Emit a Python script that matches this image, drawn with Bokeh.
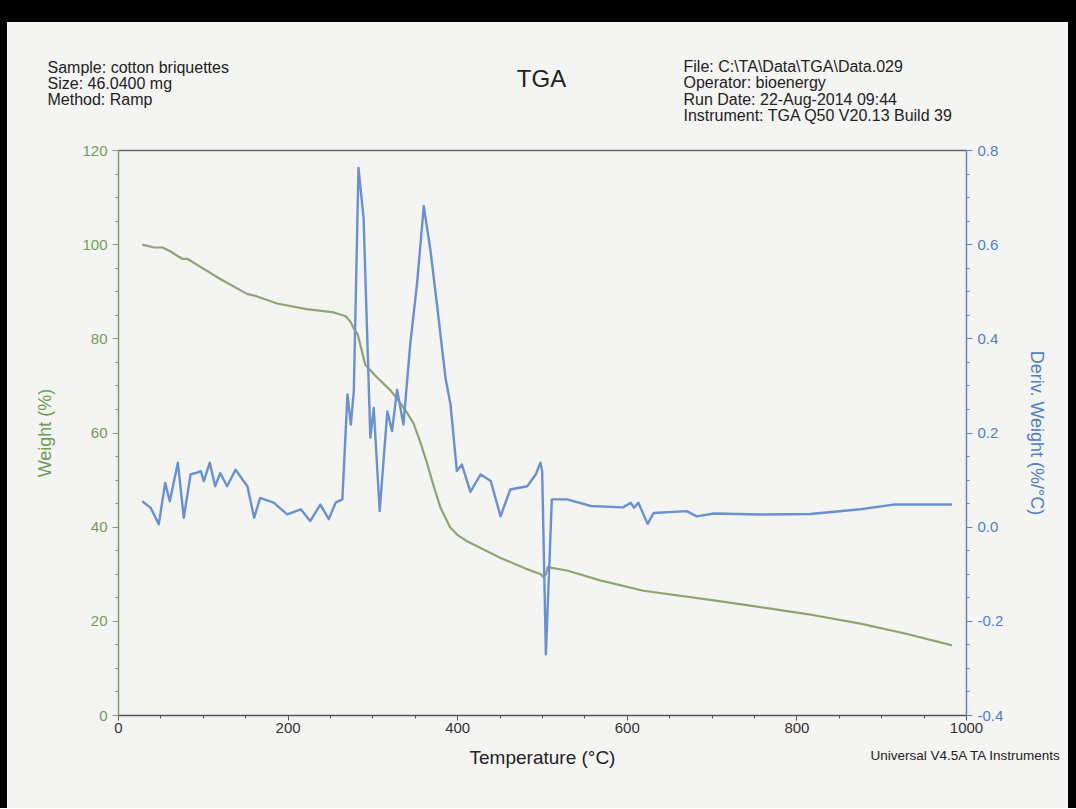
from bokeh.plotting import figure
from bokeh.models import (Range1d, LinearAxis, SingleIntervalTicker, FixedTicker,
                          NumeralTickFormatter, Div)
from bokeh.layouts import column, row
from bokeh.core.properties import value
from bokeh.embed import file_html
from bokeh.resources import INLINE

# ---- data ----
temp_w = [28, 42, 52, 61, 75, 81, 101, 120, 152, 160, 187, 222, 254, 268, 274, 278, 282,
          291, 305, 321, 333, 341, 348, 356, 364, 372, 380, 391, 400, 411, 430, 450, 480,
          498, 501, 504, 506, 529, 568, 619, 700, 757, 820, 875, 930, 983]
weight = [100.0, 99.4, 99.4, 98.6, 97.0, 97.0, 94.8, 92.7, 89.5, 89.2, 87.5, 86.3, 85.6,
          84.8, 83.5, 82.0, 81.0, 74.5, 71.8, 69.0, 66.2, 64.1, 62.0, 58.0, 53.5, 48.5,
          44.0, 40.0, 38.3, 37.0, 35.3, 33.5, 31.2, 30.0, 29.4, 30.0, 31.5, 30.8, 28.7,
          26.5, 24.5, 23.0, 21.3, 19.5, 17.3, 14.9]

temp_d = [28, 38, 47.5, 55, 60.5, 70, 77, 85, 91, 97, 100.6, 107.6, 114, 120, 128, 138,
          152, 160, 167, 183, 199, 215, 226, 238, 248, 256, 264, 270, 274, 277.5, 283, 289,
          297, 301, 308, 317, 322.6, 328.5, 336, 344, 352, 360, 368, 376, 385.6, 391.5,
          399, 405, 415, 427, 439, 450.5, 462, 482, 492, 497.6, 499.6, 504, 511, 529, 557,
          595, 604, 608, 613, 624, 631, 670, 682, 702, 757, 816, 875, 914, 983]
deriv = [0.055, 0.041, 0.006, 0.094, 0.055, 0.137, 0.020, 0.112, 0.115, 0.119, 0.098,
         0.137, 0.087, 0.115, 0.087, 0.122, 0.087, 0.020, 0.062, 0.052, 0.027, 0.038,
         0.013, 0.048, 0.017, 0.052, 0.059, 0.282, 0.218, 0.289, 0.763, 0.657, 0.190,
         0.253, 0.034, 0.246, 0.204, 0.292, 0.218, 0.388, 0.516, 0.682, 0.586, 0.466,
         0.317, 0.261, 0.119, 0.133, 0.075, 0.112, 0.098, 0.023, 0.080, 0.087, 0.112,
         0.137, 0.119, -0.270, 0.059, 0.059, 0.045, 0.042, 0.052, 0.041, 0.052, 0.007,
         0.030, 0.034, 0.023, 0.029, 0.027, 0.028, 0.038, 0.048, 0.048]

header_left = ["Sample: cotton briquettes", "Size:  46.0400 mg", "Method: Ramp"]
header_right = ["File: C:\\TA\\Data\\TGA\\Data.029", "Operator: bioenergy",
                "Run Date: 22-Aug-2014 09:44", "Instrument: TGA Q50 V20.13 Build 39"]
chart_title = "TGA"
x_label = "Temperature (°C)"
footer_note = "Universal V4.5A TA Instruments"

X_MIN, X_MAX = 0, 1000
W_MIN, W_MAX = 0, 120
D_MIN, D_MAX = -0.4, 0.8

FONT = "Liberation Sans"
PAPER = "#f4f4f3"
GREEN_LINE = "#8ea572"
GREEN_TXT = "#6e9d55"
BLUE_LINE = "#6a91cf"
BLUE_TXT = "#4f80c4"
TEXT = "#222222"

# ---- layout geometry (page pixels) ----
CAN_L, CAN_R, CAN_T, CAN_B = 7, 1068, 22, 808      # canvas of the figure
FR_L, FR_R, FR_T, FR_B = 118, 966, 150, 715        # the plotting box

sx = (FR_R - FR_L) / (X_MAX - X_MIN)
sw = (FR_B - FR_T) / (W_MAX - W_MIN)
sd = (FR_B - FR_T) / (D_MAX - D_MIN)
x_rng = Range1d(X_MIN - (FR_L - CAN_L) / sx, X_MAX + (CAN_R - FR_R) / sx)
w_rng = Range1d(W_MIN - (CAN_B - FR_B) / sw, W_MAX + (FR_T - CAN_T) / sw)
d_rng = Range1d(D_MIN - (CAN_B - FR_B) / sd, D_MAX + (FR_T - CAN_T) / sd)


def px_x(px):
    return X_MIN + (px - FR_L) / sx


def px_y(py):
    return W_MIN + (FR_B - py) / sw


p = figure(width=CAN_R - CAN_L, height=CAN_B - CAN_T, output_backend="svg",
           toolbar_location=None, x_range=x_rng, y_range=w_rng,
           x_axis_location=None, y_axis_location=None, min_border=0)
p.extra_y_ranges = {"deriv": d_rng}
p.background_fill_color = PAPER
p.border_fill_color = PAPER
p.outline_line_color = None
p.xgrid.visible = False
p.ygrid.visible = False


def style_axis(ax, txt, line):
    ax.axis_line_color = line
    ax.axis_line_width = 1.5
    ax.major_tick_line_color = line
    ax.minor_tick_line_color = line
    ax.major_tick_out = 6
    ax.major_tick_in = 0
    ax.minor_tick_out = 3
    ax.minor_tick_in = 0
    ax.major_label_text_color = txt
    ax.major_label_text_font = FONT
    ax.major_label_text_font_size = "15px"
    ax.axis_label_text_color = txt
    ax.axis_label_text_font = FONT
    ax.axis_label_text_font_size = "18px"
    ax.axis_label_text_font_style = "normal"


ya = LinearAxis(fixed_location=X_MIN, bounds=(W_MIN, W_MAX),
                ticker=SingleIntervalTicker(interval=20, num_minor_ticks=4),
                axis_label="Weight (%)")
style_axis(ya, GREEN_TXT, "#7f9a70")
ya.axis_label_standoff = 24
p.add_layout(ya, "left")

xa = LinearAxis(fixed_location=W_MIN, bounds=(X_MIN, X_MAX),
                ticker=SingleIntervalTicker(interval=200, num_minor_ticks=4),
                axis_label=x_label)
style_axis(xa, "#333333", "#555555")
xa.major_tick_out = 5
xa.major_label_standoff = 2
xa.axis_label_text_color = TEXT
xa.axis_label_text_font_size = "19px"
xa.axis_label_standoff = 11
p.add_layout(xa, "below")

ta = LinearAxis(fixed_location=W_MAX, bounds=(X_MIN, X_MAX), ticker=FixedTicker(ticks=[]),
                major_label_text_alpha=0)
ta.axis_line_color = "#666666"
ta.axis_line_width = 1.5
p.add_layout(ta, "above")

ra = LinearAxis(y_range_name="deriv", fixed_location=X_MAX, bounds=(D_MIN, D_MAX),
                ticker=SingleIntervalTicker(interval=0.2, num_minor_ticks=4),
                formatter=NumeralTickFormatter(format="0.0"),
                axis_label="Deriv. Weight (%/°C)")
style_axis(ra, BLUE_TXT, "#5b86c5")
ra.axis_label_standoff = 21
p.add_layout(ra, "right")

# curves
p.line(temp_w, weight, line_color=GREEN_LINE, line_width=2.2, line_join="round")
p.line(temp_d, deriv, y_range_name="deriv", line_color=BLUE_LINE, line_width=2.4,
       line_join="round")

# header / footer texts
p.text(x=[px_x(47)] * len(header_left),
       y=[px_y(67 + 16 * i) for i in range(len(header_left))],
       text=header_left, text_font=value(FONT), text_font_size="16px",
       text_color=TEXT, text_baseline="middle", text_align="left")
p.text(x=[px_x(683)] * len(header_right),
       y=[px_y(66 + 16.3 * i) for i in range(len(header_right))],
       text=header_right, text_font=value(FONT), text_font_size="16px",
       text_color=TEXT, text_baseline="middle", text_align="left")
p.text(x=[px_x(541)], y=[px_y(78)], text=[chart_title], text_font=value(FONT),
       text_font_size="24px", text_color=TEXT, text_baseline="middle", text_align="center")
p.text(x=[px_x(870)], y=[px_y(755)], text=[footer_note], text_font=value(FONT),
       text_font_size="13.5px", text_color=TEXT, text_baseline="middle", text_align="left")

band = Div(width=CAN_R - CAN_L, height=CAN_T, margin=0,
           styles={"background-color": "#000000"})
left_edge = Div(width=CAN_L, height=CAN_B, margin=0, styles={"background-color": "#000000"})
right_edge = Div(width=8, height=CAN_B, margin=0, styles={"background-color": "#000000"})

layout = row(left_edge, column(band, p, spacing=0), right_edge, spacing=0)

open("out.html", "w").write(file_html(layout, INLINE))
